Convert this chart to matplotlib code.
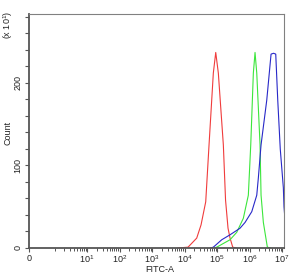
import numpy as np
import matplotlib
matplotlib.use("Agg")
import matplotlib.pyplot as plt
from matplotlib.ticker import FixedLocator, NullFormatter

plt.rcParams['font.family'] = ['Liberation Sans', 'DejaVu Sans']
plt.rcParams['mathtext.fontset'] = 'custom'
plt.rcParams['mathtext.rm'] = 'Liberation Sans'
plt.rcParams['mathtext.it'] = 'Liberation Sans'
plt.rcParams['mathtext.default'] = 'regular'

# log10(FITC-A) positions and counts (x10)
red_log = [3.80, 4.108, 4.375, 4.508, 4.652, 4.754, 4.886, 4.960, 5.040, 5.194, 5.262, 5.338, 5.400, 5.483, 5.60]
red_cnt = [0, 1, 12, 28, 56, 125, 212, 237, 212, 125, 58, 24, 12, 1, 0]

green_log = [4.90, 4.991, 5.400, 5.606, 5.809, 5.963, 6.037, 6.117, 6.169, 6.222, 6.323, 6.354, 6.425, 6.548, 6.65]
green_cnt = [0, 1, 10, 19, 36, 64, 125, 212, 237, 212, 125, 64, 31, 1, 0]

blue_log = [4.80, 4.886, 5.145, 5.400, 5.708, 5.862, 6.068, 6.222, 6.271, 6.354, 6.529, 6.662, 6.740, 6.806, 6.868, 6.945, 7.040, 7.060, 7.10, 7.20]
blue_cnt = [0, 1, 10, 16, 24, 31, 44, 64, 85, 125, 179, 235, 236, 235, 179, 120, 73, 50, 30, 5]

xticks = [0, 1e1, 1e2, 1e3, 1e4, 1e5, 1e6, 1e7]
xticklabels = ['0', '$10^1$', '$10^2$', '$10^3$', '$10^4$', '$10^5$', '$10^6$', '$10^7$']
yticks = [0, 100, 200]
yticklabels = ['0', '100', '200']

fig = plt.figure(figsize=(2.91, 2.75), dpi=100)
ax = fig.add_axes([29/291, 1 - 248/275, (284 - 29)/291, (248 - 14)/275])
ax.set_xscale('symlog', linthresh=1, linscale=0.706)

ax.plot(10 ** np.array(red_log), red_cnt, color='#f03c3c', lw=0.8)
ax.plot(10 ** np.array(green_log), green_cnt, color='#3ce63c', lw=0.8)
ax.plot(10 ** np.array(blue_log), blue_cnt, color='#2828c8', lw=0.8)

ax.set_xlim(0, 10 ** 7.06)
ax.set_ylim(0, 283.6)

ax.xaxis.set_major_locator(FixedLocator(xticks))
ax.set_xticklabels(xticklabels)
minors = [m * 10 ** k for k in range(0, 7) for m in range(1, 10) if not (m == 1 and k > 0)]
ax.xaxis.set_minor_locator(FixedLocator(minors))
ax.xaxis.set_minor_formatter(NullFormatter())

ax.yaxis.set_major_locator(FixedLocator(yticks))
ax.set_yticklabels(yticklabels, rotation=90, va='center')
ax.yaxis.set_minor_locator(FixedLocator([20, 40, 60, 80, 120, 140, 160, 180, 220, 240, 260, 280]))

ax.tick_params(axis='x', which='major', length=3, width=0.8, color='#555555', labelsize=6.5, pad=1, labelcolor='#222222')
ax.tick_params(axis='x', which='minor', length=2.2, width=0.7, color='#555555')
ax.tick_params(axis='y', which='both', length=3, width=0.8, color='#555555', labelsize=6.5, pad=1.5, labelcolor='#222222')

for s in ['left', 'bottom']:
    ax.spines[s].set_color('#555555')
    ax.spines[s].set_linewidth(1.3)
for s in ['top', 'right']:
    ax.spines[s].set_color('#808080')
    ax.spines[s].set_linewidth(0.8)

fig.text(160/291, 1 - 269/275, 'FITC-A', fontsize=6.5, ha='center', va='center', color='#222222')
fig.text(8/291, 1 - 133/275, 'Count', fontsize=6.5, rotation=90, ha='center', va='center', color='#222222')
fig.text(8/291, 1 - 25/275, r'(x 10$^1$)', fontsize=6.5, rotation=90, ha='center', va='center', color='#222222')

fig.savefig('out.png', dpi=100)
